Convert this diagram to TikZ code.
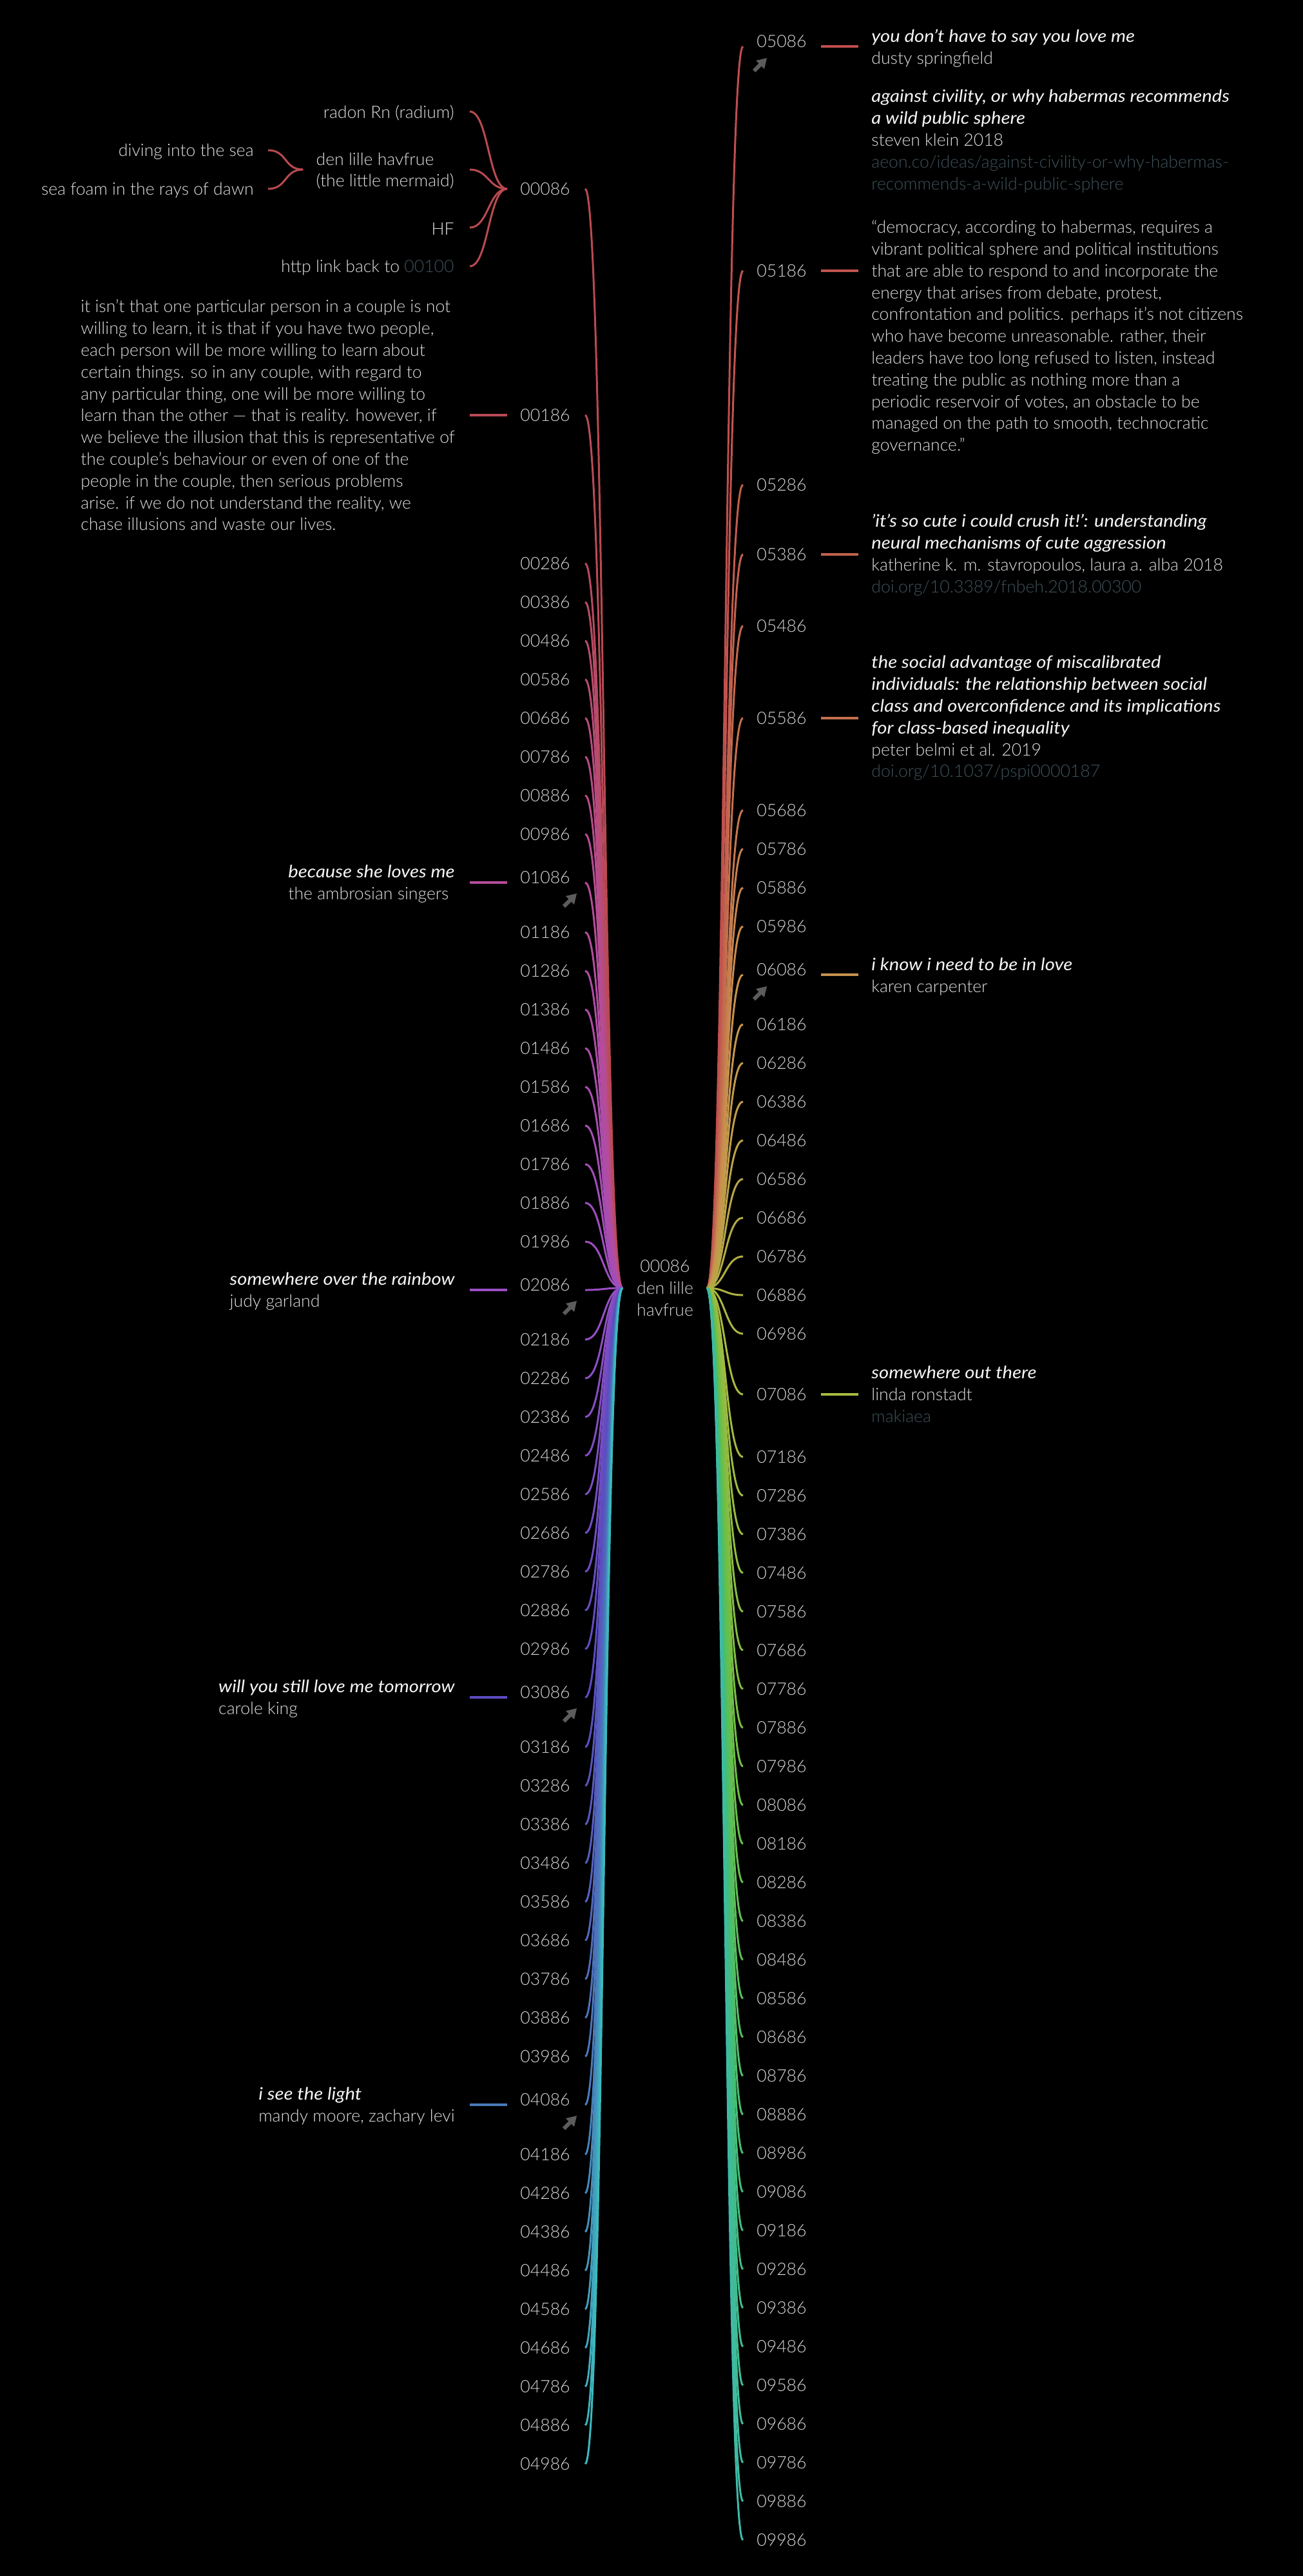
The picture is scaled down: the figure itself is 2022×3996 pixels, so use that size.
\documentclass[tikz,border=0pt]{standalone}
\usepackage{fontspec}
\usetikzlibrary{calc}
\IfFontExistsTF{Lato Light}{%
  \setmainfont{Lato Light}%
  \newfontfamily\ttlfamily{Lato}[FakeStretch=1.1]%
}{%
  \setmainfont{Liberation Sans}%
  \newfontfamily\ttlfamily{Liberation Sans}%
}
\definecolor{numc}{RGB}{215,215,215}
\definecolor{txtc}{RGB}{225,225,225}
\definecolor{ttlc}{RGB}{245,245,245}
\definecolor{lnkc}{RGB}{62,82,90}
\definecolor{arrc}{RGB}{92,92,92}
% left gradient keys (every 10 entries)
\definecolor{LK0}{RGB}{185,74,80}
\definecolor{LK1}{RGB}{182,76,155}
\definecolor{LK2}{RGB}{155,78,196}
\definecolor{LK3}{RGB}{92,76,192}
\definecolor{LK4}{RGB}{74,122,186}
\definecolor{LK5}{RGB}{58,192,190}
% right gradient keys
\definecolor{RK0}{RGB}{192,78,78}
\definecolor{RK1}{RGB}{200,146,78}
\definecolor{RK2}{RGB}{168,186,64}
\definecolor{RK3}{RGB}{108,190,70}
\definecolor{RK4}{RGB}{66,190,120}
\definecolor{RK5}{RGB}{62,186,172}
\newcommand\bfs{\fontsize{13.3}{16.9}\selectfont}
\newcommand\ttl[1]{{\ttlfamily\itshape\color{ttlc}#1}}
\newcommand\lnk[1]{{\color{lnkc}#1}}
\tikzset{
  numl/.style={text=numc, font=\bfs, inner sep=0pt},
  ann/.style={text=txtc, font=\bfs, inner sep=0pt, align=left},
  branch/.style={line width=1.5pt},
  dashl/.style={line width=1.7pt},
  cursor/.pic={
    \fill[arrc] (11,-11) -- (-6,-7) -- (7,6) -- cycle;
    \draw[arrc, line width=3pt] (1,-1) -- (-9,9);
  }
}
\begin{document}
\begin{tikzpicture}[x=0.5pt,y=-0.5pt]
\fill[black] (0,0) rectangle (2022,3996);
\useasboundingbox (0,0) rectangle (2022,3996);

\coordinate (hubL) at (966,1998);
\coordinate (hubR) at (1097,1998);

% ---------- left branches ----------
\foreach \i/\ny/\py in {0/293/293,1/644/644,2/874/874,3/934/934,4/994/994,5/1054/1054,6/1114/1114,7/1174/1174,8/1234/1234,9/1294/1294,
10/1361/1369,11/1446/1446,12/1506/1506,13/1566/1566,14/1626/1626,15/1686/1686,16/1746/1746,17/1806/1806,18/1866/1866,19/1926/1926,
20/1993/2001,21/2078/2078,22/2138/2138,23/2198/2198,24/2258/2258,25/2318/2318,26/2378/2378,27/2438/2438,28/2498/2498,29/2558/2558,
30/2625/2633,31/2710/2710,32/2770/2770,33/2830/2830,34/2890/2890,35/2950/2950,36/3010/3010,37/3070/3070,38/3130/3130,39/3190/3190,
40/3257/3265,41/3342/3342,42/3402/3402,43/3462/3462,44/3522/3522,45/3582/3582,46/3642/3642,47/3702/3702,48/3762/3762,49/3822/3822}{
  \pgfmathtruncatemacro\sA{int(\i/10)}
  \pgfmathtruncatemacro\sB{\sA+1}
  \pgfmathtruncatemacro\pp{100-10*(\i-10*\sA)}
  \xglobal\colorlet{cL\i}{LK\sA!\pp!LK\sB}
  \coordinate (pL\i) at (908,\py);
  \draw[branch, draw=cL\i] (pL\i) .. controls +(29.5,0) and +(-29.5,0) .. (hubL);
  \node[numl, anchor=east] (nL\i) at (885,\ny) {0\ifnum\i<10 0\fi\i 86};
}

% ---------- right branches ----------
\foreach \i/\ny/\py in {0/64/72,1/420/420,2/752/752,3/860/860,4/971/971,5/1114/1114,6/1257/1257,7/1317/1317,8/1377/1377,9/1437/1437,
10/1504/1512,11/1589/1589,12/1649/1649,13/1709/1709,14/1769/1769,15/1829/1829,16/1889/1889,17/1949/1949,18/2009/2009,19/2069/2069,
20/2163/2163,21/2260/2260,22/2320/2320,23/2380/2380,24/2440/2440,25/2500/2500,26/2560/2560,27/2620/2620,28/2680/2680,29/2740/2740,
30/2800/2800,31/2860/2860,32/2920/2920,33/2980/2980,34/3040/3040,35/3100/3100,36/3160/3160,37/3220/3220,38/3280/3280,39/3340/3340,
40/3400/3400,41/3460/3460,42/3520/3520,43/3580/3580,44/3640/3640,45/3700/3700,46/3760/3760,47/3820/3820,48/3880/3880,49/3940/3940}{
  \pgfmathtruncatemacro\sA{int(\i/10)}
  \pgfmathtruncatemacro\sB{\sA+1}
  \pgfmathtruncatemacro\pp{100-10*(\i-10*\sA)}
  \xglobal\colorlet{cR\i}{RK\sA!\pp!RK\sB}
  \coordinate (pR\i) at (1153,\py);
  \draw[branch, draw=cR\i] (hubR) .. controls +(28,0) and +(-28,0) .. (pR\i);
  \node[numl, anchor=west] (nR\i) at (1174,\ny) {0\number\numexpr50+\i\relax 86};
}

% ---------- dashes ----------
\foreach \i/\py in {1/644,10/1369,20/2001,30/2633,40/3265}{
  \coordinate (dLa\i) at (729,\py);
  \coordinate (dLb\i) at (787,\py);
  \draw[dashl, draw=cL\i] (dLa\i) -- (dLb\i);
}
\foreach \i/\py in {0/72,1/420,3/860,5/1114,10/1512,20/2163}{
  \coordinate (dRa\i) at (1274,\py);
  \coordinate (dRb\i) at (1332,\py);
  \draw[dashl, draw=cR\i] (dRa\i) -- (dRb\i);
}

% ---------- cursor arrows ----------
\foreach \py in {1369,2001,2633,3265}{ \pic at (884,\py+28) {cursor}; }
\foreach \py in {72,1512}{ \pic at (1179,\py+29) {cursor}; }

% ---------- centre label ----------
\node[numl, align=center] (centre) at (1032,1998) {00086\\den lille\\havfrue};

% ---------- sub-tree of 00086 ----------
\coordinate (h00086) at (787,293);
\node[ann, anchor=east] (radon) at (705,175) {radon Rn (radium)};
\node[ann, anchor=east] (havfrue) at (705,265) {den lille havfrue\\(the little mermaid)};
\node[ann, anchor=east] (hf) at (705,355) {HF};
\node[ann, anchor=east] (http) at (705,415) {http link back to \lnk{00100}};
\coordinate (eRadon) at (729,173);
\coordinate (eHav) at (729,263);
\coordinate (eHF) at (729,353);
\coordinate (eHttp) at (729,413);
\foreach \e in {eRadon,eHav,eHF,eHttp}{
  \draw[branch, draw=cL0] (\e) .. controls +(29,0) and +(-29,0) .. (h00086);
}
\coordinate (hHav) at ($(havfrue.west)+(-20,-2)$);
\node[ann, anchor=east] (diving) at (394,235) {diving into the sea};
\node[ann, anchor=east] (seafoam) at (394,295) {sea foam in the rays of dawn};
\coordinate (eDiving) at (416,233);
\coordinate (eSeafoam) at (416,293);
\draw[branch, draw=cL0] (eDiving) .. controls +(30,0) and +(-30,0) .. (hHav);
\draw[branch, draw=cL0] (eSeafoam) .. controls +(30,0) and +(-30,0) .. (hHav);

% ---------- left annotations ----------
\node[ann, anchor=east] (a00186) at (706,644) {it isn’t that one particular person in a couple is not\\
willing to learn, it is that if you have two people,\\
each person will be more willing to learn about\\
certain things. so in any couple, with regard to\\
any particular thing, one will be more willing to\\
learn than the other — that is reality. however, if\\
we believe the illusion that this is representative of\\
the couple’s behaviour or even of one of the\\
people in the couple, then serious problems\\
arise. if we do not understand the reality, we\\
chase illusions and waste our lives.};
\node[ann, anchor=east] (a01086) at (706,1371) {\ttl{because she loves me}\\the ambrosian singers};
\node[ann, anchor=east] (a02086) at (706,2003) {\ttl{somewhere over the rainbow}\\judy garland};
\node[ann, anchor=east] (a03086) at (706,2635) {\ttl{will you still love me tomorrow}\\carole king};
\node[ann, anchor=east] (a04086) at (706,3267) {\ttl{i see the light}\\mandy moore, zachary levi};

% ---------- right annotations ----------
\node[ann, anchor=west] (a05086) at (1352,75) {\ttl{you don’t have to say you love me}\\dusty springfield};
\node[ann, anchor=west] (a05186) at (1352,422) {\ttl{against civility, or why habermas recommends}\\
\ttl{a wild public sphere}\\
steven klein 2018\\
\lnk{aeon.co/ideas/against-civility-or-why-habermas-}\\
\lnk{recommends-a-wild-public-sphere}\\[16.9pt]
“democracy, according to habermas, requires a\\
vibrant political sphere and political institutions\\
that are able to respond to and incorporate the\\
energy that arises from debate, protest,\\
confrontation and politics. perhaps it’s not citizens\\
who have become unreasonable. rather, their\\
leaders have too long refused to listen, instead\\
treating the public as nothing more than a\\
periodic reservoir of votes, an obstacle to be\\
managed on the path to smooth, technocratic\\
governance.”};
\node[ann, anchor=west] (a05386) at (1352,861) {\ttl{’it’s so cute i could crush it!’: understanding}\\
\ttl{neural mechanisms of cute aggression}\\
katherine k. m. stavropoulos, laura a. alba 2018\\
\lnk{doi.org/10.3389/fnbeh.2018.00300}};
\node[ann, anchor=west] (a05586) at (1352,1114) {\ttl{the social advantage of miscalibrated}\\
\ttl{individuals: the relationship between social}\\
\ttl{class and overconfidence and its implications}\\
\ttl{for class-based inequality}\\
peter belmi et al. 2019\\
\lnk{doi.org/10.1037/pspi0000187}};
\node[ann, anchor=west] (a06086) at (1352,1515) {\ttl{i know i need to be in love}\\karen carpenter};
\node[ann, anchor=west] (a07086) at (1352,2163) {\ttl{somewhere out there}\\linda ronstadt\\\lnk{makiaea}};
\end{tikzpicture}
\end{document}
